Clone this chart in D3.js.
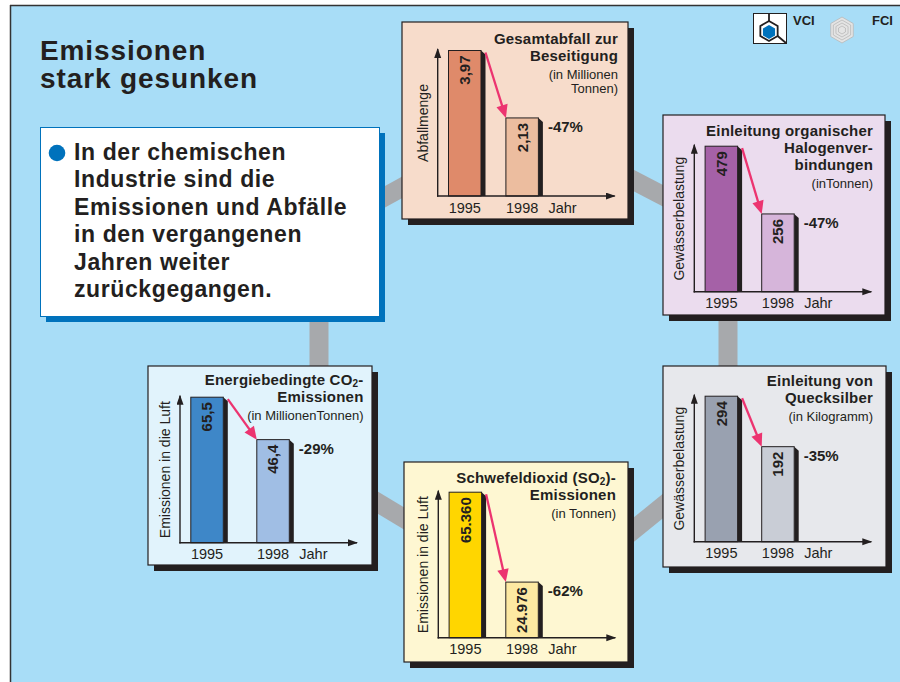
<!DOCTYPE html>
<html>
<head>
<meta charset="utf-8">
<script src="https://cdn.jsdelivr.net/npm/d3@7"></script>
<style>
  body { margin: 0; background: #fff; }
  svg { display: block; font-family: "Liberation Sans", Arial, Helvetica, sans-serif; }
</style>
</head>
<body>
<div id="chart"></div>
<script>
// data
const years = ["1995", "1998"];
const xUnit = "Jahr";
const headline = ["Emissionen", "stark gesunken"];
const introLines = ["In der chemischen", "Industrie sind die", "Emissionen und Abfälle",
  "in den vergangenen", "Jahren weiter", "zurückgegangen."];
// "_2" marks a subscript 2
const panelTitles = [
  ["Gesamtabfall zur", "Beseitigung"],
  ["Einleitung organischer", "Halogenver-", "bindungen"],
  ["Energiebedingte CO_2-", "Emissionen"],
  ["Schwefeldioxid (SO_2)-", "Emissionen"],
  ["Einleitung von", "Quecksilber"]
];
const panelUnits = [["(in Millionen", "Tonnen)"], ["(inTonnen)"], ["(in MillionenTonnen)"], ["(in Tonnen)"], ["(in Kilogramm)"]];
const yTitles = ["Abfallmenge", "Gewässerbelastung", "Emissionen in die Luft", "Emissionen in die Luft", "Gewässerbelastung"];
const values1995 = [3.97, 479, 65.5, 65360, 294];
const values1998 = [2.13, 256, 46.4, 24976, 192];
const labels1995 = ["3,97", "479", "65,5", "65.360", "294"];
const labels1998 = ["2,13", "256", "46,4", "24.976", "192"];
const changes = ["-47%", "-47%", "-29%", "-62%", "-35%"];

// layout + styles per panel
const layout = [
  { x: 402, y: 22, w: 226, h: 197, ax: 437.7, ay: 196, step: 57.4, tx: 618, ty: 44, bg: "#f7dccb", c1: "#df8a6a", c2: "#ecbd9f" },
  { x: 663, y: 115, w: 222, h: 200, ax: 694.3, ay: 291.7, step: 56.6, tx: 873, ty: 136, bg: "#ebdcee", c1: "#a561a7", c2: "#d6b5da" },
  { x: 148, y: 366, w: 224, h: 199, ax: 180, ay: 542.7, step: 66, tx: 363.5, ty: 385, bg: "#e1f3fc", c1: "#3e87c8", c2: "#a0bee4" },
  { x: 404, y: 462, w: 224, h: 200, ax: 438.3, ay: 637.7, step: 56.7, tx: 616, ty: 483, bg: "#fef7d2", c1: "#ffd600", c2: "#fde9a2" },
  { x: 663, y: 366, w: 223, h: 201, ax: 694.3, ay: 541.7, step: 56.6, tx: 873, ty: 386, bg: "#e7e8ec", c1: "#99a1b0", c2: "#c9cdd6" }
];

const W = 900, H = 682;
const ink = "#231f20";
const blue = "#0072bc";
const connectorGrey = "#a7a9ac";

const svg = d3.select("#chart").append("svg").attr("width", W).attr("height", H);

// background frame
svg.append("rect").attr("x", 10).attr("y", 5).attr("width", W - 10).attr("height", H - 5).attr("fill", "#a8ddf7");
svg.append("line").attr("x1", 10).attr("x2", W).attr("y1", 5.5).attr("y2", 5.5).attr("stroke", "#333").attr("stroke-width", 1.5);
svg.append("line").attr("x1", 10.5).attr("x2", 10.5).attr("y1", 5).attr("y2", H).attr("stroke", "#333").attr("stroke-width", 1.5);

// grey connectors behind the boxes
const connectors = [
  [[330, 227], [450, 161]],
  [[600, 163], [700, 215]],
  [[728, 300], [728, 380]],
  [[600, 557], [700, 476]],
  [[340, 480], [440, 540]],
  [[319, 300], [319, 380]]
];
svg.append("g").selectAll("line").data(connectors).enter().append("line")
  .attr("x1", d => d[0][0]).attr("y1", d => d[0][1])
  .attr("x2", d => d[1][0]).attr("y2", d => d[1][1])
  .attr("stroke", connectorGrey).attr("stroke-width", 19);

// headline
svg.append("g").selectAll("text").data(headline).enter().append("text")
  .attr("x", 40).attr("y", (d, i) => 60 + i * 28.3)
  .attr("font-size", 28).attr("font-weight", "bold").attr("letter-spacing", 0.9)
  .attr("fill", ink).text(d => d);

// intro box
svg.append("rect").attr("x", 46).attr("y", 133).attr("width", 339).attr("height", 189).attr("fill", blue);
svg.append("rect").attr("x", 40.5).attr("y", 127.5).attr("width", 339).attr("height", 189)
  .attr("fill", "#fff").attr("stroke", blue).attr("stroke-width", 1);
svg.append("circle").attr("cx", 57).attr("cy", 153).attr("r", 8.3).attr("fill", blue);
svg.append("g").selectAll("text").data(introLines).enter().append("text")
  .attr("x", 74).attr("y", (d, i) => 160 + i * 27.4)
  .attr("font-size", 23).attr("font-weight", "bold").attr("letter-spacing", 0.6)
  .attr("fill", ink).text(d => d);

// logos
const logo = svg.append("g");
logo.append("rect").attr("x", 753.5).attr("y", 13.5).attr("width", 33).attr("height", 30).attr("fill", "#fff").attr("stroke", ink);
const hex = (cx, cy, r) => d3.range(6).map(k => {
  const a = Math.PI / 2 + k * Math.PI / 3;
  return [cx + r * Math.cos(a), cy - r * Math.sin(a)];
});
const hv = hex(769, 31, 10);
logo.append("polygon").attr("points", hex(769, 32, 7).map(p => p.join(",")).join(" ")).attr("fill", blue);
logo.append("polygon").attr("points", hv.map(p => p.join(",")).join(" ")).attr("fill", "none").attr("stroke", ink).attr("stroke-width", 1.8);
logo.append("line").attr("x1", 769).attr("x2", 769).attr("y1", 14).attr("y2", 21).attr("stroke", ink).attr("stroke-width", 1.8);
logo.append("line").attr("x1", hv[4][0]).attr("y1", hv[4][1]).attr("x2", 786).attr("y2", 43).attr("stroke", ink).attr("stroke-width", 1.8);
logo.append("text").attr("x", 793).attr("y", 25).attr("font-size", 13).attr("font-weight", "bold").attr("fill", ink).text("VCI");
[13, 10, 7, 4].forEach((r, k) => {
  logo.append("polygon").attr("points", hex(842, 30, r).map(p => p.join(",")).join(" "))
    .attr("fill", k === 0 ? "#e4e4e4" : "none").attr("stroke", "#b8b8b8").attr("stroke-width", 0.8);
});
logo.append("text").attr("x", 872).attr("y", 25).attr("font-size", 13).attr("font-weight", "bold").attr("fill", ink).text("FCI");

// markers
const defs = svg.append("defs");
defs.append("marker").attr("id", "axhead").attr("markerUnits", "userSpaceOnUse")
  .attr("markerWidth", 11).attr("markerHeight", 8).attr("refX", 9).attr("refY", 3.5).attr("orient", "auto")
  .append("path").attr("d", "M0,0 L10,3.5 L0,7 Z").attr("fill", ink);

function titleText(sel, str) {
  const parts = str.split("_2");
  sel.append("tspan").text(parts[0]);
  if (parts.length > 1) {
    sel.append("tspan").attr("font-size", 10).attr("dy", 2).text("2");
    sel.append("tspan").attr("dy", -2).text(parts[1]);
  }
}

// panels
layout.forEach((p, i) => {
  const g = svg.append("g");
  g.append("rect").attr("x", p.x + 6).attr("y", p.y + 6).attr("width", p.w).attr("height", p.h).attr("fill", ink);
  g.append("rect").attr("x", p.x).attr("y", p.y).attr("width", p.w).attr("height", p.h)
    .attr("fill", p.bg).attr("stroke", ink).attr("stroke-width", 1.2);

  const vals = [values1995[i], values1998[i]];
  const labs = [labels1995[i], labels1998[i]];
  const bw = 32.5;
  const x0 = p.ax + 10.8;
  const x = d3.scaleBand().domain(years).range([x0, x0 + p.step + bw])
    .paddingInner(1 - bw / p.step).paddingOuter(0);
  const y = d3.scaleLinear().domain([0, d3.max(vals)]).range([p.ay, p.ay - 145.5]);

  // title
  panelTitles[i].forEach((t, k) => {
    g.append("text").attr("x", p.tx).attr("y", p.ty + k * 17).attr("text-anchor", "end")
      .attr("font-size", 15).attr("font-weight", "bold").attr("letter-spacing", 0.2).attr("fill", ink).call(titleText, t);
  });
  const uy = p.ty + (panelTitles[i].length - 1) * 17 + 17.5;
  panelUnits[i].forEach((t, k) => {
    g.append("text").attr("x", p.tx).attr("y", uy + k * 14).attr("text-anchor", "end")
      .attr("font-size", 13).attr("fill", ink).text(t);
  });

  // y title
  g.append("text").attr("transform", `translate(${p.ax - 10},${p.ay - 73}) rotate(-90)`)
    .attr("text-anchor", "middle").attr("font-size", 14).attr("fill", ink).text(yTitles[i]);

  // bars
  const data = years.map((yr, k) => ({ yr, v: vals[k], lab: labs[k], c: k === 0 ? p.c1 : p.c2 }));
  const bars = g.append("g");
  bars.selectAll("polygon").data(data).enter().append("polygon")
    .attr("points", d => {
      const r = x(d.yr) + x.bandwidth(), t = y(d.v);
      return [[r, t], [r + 4.5, t + 4], [r + 4.5, p.ay], [r, p.ay]].map(q => q.join(",")).join(" ");
    })
    .attr("fill", ink);
  bars.selectAll("rect").data(data).enter().append("rect")
    .attr("x", d => x(d.yr)).attr("y", d => y(d.v))
    .attr("width", x.bandwidth()).attr("height", d => p.ay - y(d.v))
    .attr("fill", d => d.c).attr("stroke", ink).attr("stroke-width", 1);
  bars.selectAll("text").data(data).enter().append("text")
    .attr("transform", d => `translate(${x(d.yr) + x.bandwidth() / 2},${y(d.v) + 5}) rotate(-90)`)
    .attr("text-anchor", "end").attr("dy", "0.36em")
    .attr("font-size", 15).attr("font-weight", "bold").attr("fill", ink).text(d => d.lab);

  // change label
  g.append("text").attr("x", x(years[1]) + x.bandwidth() + 9.5).attr("y", y(vals[1]) + 14)
    .attr("font-size", 15).attr("font-weight", "bold").attr("fill", ink).text(changes[i]);

  // red arrow between bars
  const sx = x(years[0]) + x.bandwidth() + 4.5, sy = y(vals[0]) + 2;
  const ex = x(years[1]), ey = y(vals[1]);
  const ang = Math.atan2(ey - sy, ex - sx);
  const hl = 13, hw = 5.8;
  const bx = ex - hl * Math.cos(ang), by = ey - hl * Math.sin(ang);
  g.append("line").attr("x1", sx).attr("y1", sy).attr("x2", bx + 2 * Math.cos(ang)).attr("y2", by + 2 * Math.sin(ang))
    .attr("stroke", "#ec3470").attr("stroke-width", 2.3);
  g.append("polygon").attr("points", [[ex, ey],
    [bx + hw * Math.sin(ang), by - hw * Math.cos(ang)],
    [bx - hw * Math.sin(ang), by + hw * Math.cos(ang)]].map(q => q.join(",")).join(" "))
    .attr("fill", "#ec3470");

  // axes with arrows
  g.append("line").attr("x1", p.ax).attr("x2", p.ax).attr("y1", p.ay + 0.7).attr("y2", p.ay - 147)
    .attr("stroke", ink).attr("stroke-width", 1.4).attr("marker-end", "url(#axhead)");
  g.append("line").attr("x1", p.ax - 0.7).attr("x2", p.ax + 177).attr("y1", p.ay).attr("y2", p.ay)
    .attr("stroke", ink).attr("stroke-width", 1.4).attr("marker-end", "url(#axhead)");

  const xAxis = g.append("g").attr("transform", `translate(0,${p.ay})`)
    .call(d3.axisBottom(x).tickSize(0).tickPadding(6.5));
  xAxis.select(".domain").remove();
  xAxis.selectAll("text").attr("font-size", 14.5).attr("fill", ink)
    .attr("font-family", "Liberation Sans, Arial, sans-serif");
  g.append("text").attr("x", x(years[1]) + x.bandwidth() + 10).attr("y", p.ay + 16.5)
    .attr("font-size", 14.5).attr("fill", ink).text(xUnit);
});
</script>
</body>
</html>
